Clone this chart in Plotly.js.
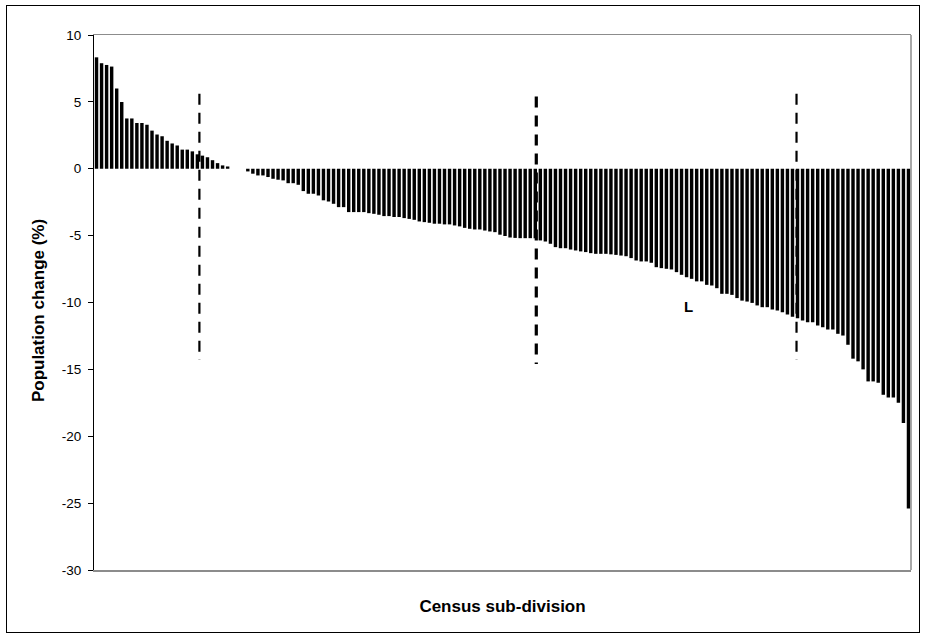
<!DOCTYPE html>
<html>
<head>
<meta charset="utf-8">
<script src="https://cdn.plot.ly/plotly-3.0.1.min.js"></script>
<style>
  html, body { margin: 0; padding: 0; background: #fff; }
  #chart { width: 925px; height: 637px; }
  #frame { position: absolute; left: 6px; top: 5px; width: 912px; height: 626px; border: 1px solid #000; pointer-events: none; }
</style>
</head>
<body>
<div id="chart"></div>
<div id="frame"></div>
<script>
// Population change (%) by census sub-division, sorted descending
const growthValues = [8.33, 7.89, 7.76, 7.64, 6.0, 4.99, 3.76, 3.76, 3.42, 3.42, 3.29, 2.85, 2.56, 2.43, 2.09,
  1.89, 1.74, 1.43, 1.43, 1.30, 1.08, 0.98, 0.86, 0.64, 0.42, 0.25, 0.17];
const noChangeValues = [0, 0, 0];
const declineValuesA = [-0.2, -0.37, -0.5, -0.5, -0.62, -0.75, -0.82, -0.87, -1.08, -1.08, -1.2, -1.67, -1.87, -1.87,
  -2.0, -2.36, -2.45, -2.62, -2.87, -2.87, -3.24, -3.24, -3.24, -3.24, -3.32, -3.37, -3.44, -3.54, -3.54];
const declineValuesB = [-3.61, -3.61, -3.69, -3.75, -3.82, -3.94, -3.99, -4.04, -4.11, -4.11, -4.16, -4.16, -4.24,
  -4.31, -4.42, -4.49, -4.54, -4.54, -4.62, -4.69, -4.74, -4.93, -5.03, -5.14, -5.17, -5.19, -5.19, -5.19, -5.2];
const declineValuesC = [-5.36, -5.44, -5.61, -5.86, -5.94, -5.94, -6.04, -6.11, -6.18, -6.23, -6.31, -6.36, -6.36,
  -6.36, -6.4, -6.44, -6.49, -6.54, -6.68, -6.86, -6.93, -6.93, -7.03, -7.36, -7.43, -7.48, -7.53, -7.73, -7.93];
const declineValuesD = [-8.11, -8.23, -8.42, -8.42, -8.68, -8.73, -8.93, -9.35, -9.35, -9.43, -9.67, -9.86, -9.93,
  -10.03, -10.22, -10.35, -10.35, -10.53, -10.6, -10.73, -10.9, -11.06];
const declineValuesE = [-11.17, -11.35, -11.47, -11.47, -11.72, -11.85, -12.02, -12.02, -12.34, -12.47, -13.16,
  -14.2, -14.4, -15.0, -15.9, -15.9, -16.0, -16.9, -17.1, -17.1, -17.5, -19.0, -25.4];

// Dashed divider lines (category position, top value, bottom value, width)
const dividerX = [20.4, 87.2, 138.8];
const dividerTop = [5.6, 5.4, 5.6];
const dividerBottom = [-14.3, -14.6, -14.3];
const dividerWidth = [2.2, 3.2, 2.2];

// Label
const labelText = 'L';
const labelX = 117.4;
const labelY = -10.3;

const yTicks = [10, 5, 0, -5, -10, -15, -20, -25, -30];
const yTitle = 'Population change (%)';
const xTitle = 'Census sub-division';

const values = [].concat(growthValues, noChangeValues, declineValuesA, declineValuesB,
  declineValuesC, declineValuesD, declineValuesE);
const subdivisions = values.map((v, i) => i);

const traces = [{
  type: 'bar',
  x: subdivisions,
  y: values,
  marker: { color: '#000000', line: { width: 0 } },
  hoverinfo: 'y',
  showlegend: false
}];

dividerX.forEach((dx, k) => {
  traces.push({
    type: 'scatter',
    mode: 'lines',
    x: [dx, dx],
    y: [dividerTop[k], dividerBottom[k]],
    line: { color: '#000000', width: dividerWidth[k], dash: '11px,8px' },
    hoverinfo: 'skip',
    showlegend: false
  });
});

const fontFam = '"Liberation Sans", Arial, sans-serif';

const layout = {
  width: 925,
  height: 637,
  margin: { l: 94, r: 14, t: 35, b: 67 },
  paper_bgcolor: '#ffffff',
  plot_bgcolor: '#ffffff',
  bargap: 0.32,
  showlegend: false,
  font: { family: fontFam, size: 13, color: '#000' },
  xaxis: {
    range: [-0.5, values.length - 0.5],
    showticklabels: false,
    ticks: '',
    showgrid: false,
    zeroline: false,
    showline: true,
    linecolor: '#8c8c8c',
    linewidth: 1.5,
    mirror: true,
    title: { text: '<b>' + xTitle + '</b>', font: { family: fontFam, size: 17, color: '#000' }, standoff: 29 },
    automargin: false
  },
  yaxis: {
    range: [-30, 10],
    tickvals: yTicks,
    ticktext: yTicks.map(String),
    ticks: 'outside',
    ticklen: 5,
    tickwidth: 1,
    tickcolor: '#000',
    ticklabelstandoff: 4,
    showgrid: false,
    zeroline: false,
    showline: true,
    linecolor: '#000',
    linewidth: 1,
    tickfont: { family: fontFam, size: 13.5, color: '#000' },
    automargin: false
  },
  shapes: [{
    type: 'line', xref: 'paper', yref: 'paper', x0: 1, x1: 1, y0: 0, y1: 1,
    line: { color: '#8c8c8c', width: 1.5 }
  }],
  annotations: [{
    x: labelX, y: labelY, xref: 'x', yref: 'y',
    text: '<b>' + labelText + '</b>', showarrow: false,
    font: { family: fontFam, size: 15, color: '#000' }
  }, {
    x: -0.0685, y: 0.484, xref: 'paper', yref: 'paper',
    xanchor: 'center', yanchor: 'middle',
    text: '<b>' + yTitle + '</b>', textangle: -90, showarrow: false,
    font: { family: fontFam, size: 17, color: '#000' }
  }]
};

Plotly.newPlot('chart', traces, layout, { displayModeBar: false, staticPlot: true });
</script>
</body>
</html>
